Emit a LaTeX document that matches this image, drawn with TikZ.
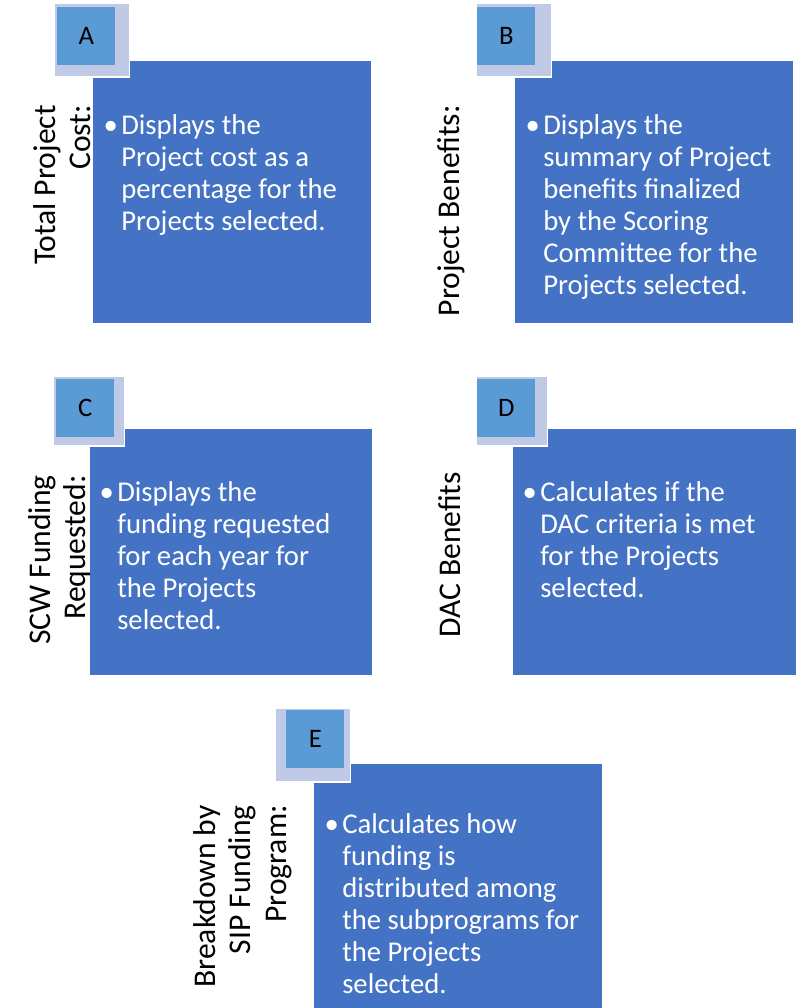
\documentclass[tikz,border=0pt]{standalone}
\usepackage{fontspec}
\setmainfont{Carlito}
\usetikzlibrary{positioning}
\definecolor{panelblue}{RGB}{68,114,196}
\definecolor{tabblue}{RGB}{91,155,213}
\definecolor{tabshade}{RGB}{192,202,230}
\newcommand{\bul}{\llap{•\hspace{2.5pt}}}

\begin{document}
\begin{tikzpicture}[x=0.75pt, y=-0.75pt,
		panel/.style={draw=white, line width=1pt, fill=panelblue, rectangle, inner sep=0pt, anchor=north west},
		tabback/.style={draw=white, line width=1pt, fill=tabshade, rectangle, inner sep=0pt, anchor=north west, minimum width=56pt, minimum height=55pt},
		tabfront/.style={fill=tabblue, rectangle, inner sep=0pt, anchor=north west, minimum size=43.5pt, font=\fontsize{20}{24}\selectfont},
		body/.style={text=white, align=left, inner sep=0pt, anchor=north west, font=\fontsize{21.5}{24}\selectfont},
		heading/.style={rotate=90, align=right, inner sep=0pt, anchor=north east, font=\fontsize{23.7}{26.6}\selectfont}]
	\useasboundingbox (0,0) rectangle (807,1008);
	% panels
	\node[panel, minimum width=209pt, minimum height=197pt] (pa) at (92,60) {};
	\node[panel, minimum width=209pt, minimum height=197pt] (pb) at (514,60) {};
	\node[panel, minimum width=212pt, minimum height=185pt] (pc) at (89,428) {};
	\node[panel, minimum width=213pt, minimum height=185pt] (pd) at (512,428) {};
	\node[panel, minimum width=217pt, minimum height=190pt] (pe) at (313,763) {};
	% letter tabs
	\node[tabback] (ta) at (54,3) {};
	\node[tabfront] (la) at (57,7) {A};
	\node[tabback] (tb) at (476,3) {};
	\node[tabfront] (lb) at (477,7) {B};
	\node[tabback, minimum width=53pt, minimum height=52pt] (tc) at (53,376) {};
	\node[tabfront] (lc) at (56,379) {C};
	\node[tabback, minimum width=53pt, minimum height=52pt] (td) at (476,376) {};
	\node[tabfront] (ld) at (477,379) {D};
	\node[tabback] (te) at (275,708) {};
	\node[tabfront] (le) at (286,710) {E};
	% side headings
	\node[heading] (ha) at (33,105) {Total Project\\Cost:};
	\node[heading] (hb) at (437,105) {Project Benefits:};
	\node[heading] (hc) at (28,475) {SCW Funding\\Requested:};
	\node[heading] (hd) at (438,472) {DAC Benefits};
	\node[heading] (he) at (193,805) {Breakdown by\\SIP Funding\\Program:};
	% bullet texts
	\node[body] (xa) at (121,114) {\bul Displays the\\Project cost as a\\percentage for the\\Projects selected.};
	\node[body] (xb) at (543,114) {\bul Displays the\\summary of Project\\benefits finalized\\by the Scoring\\Committee for the\\Projects selected.};
	\node[body] (xc) at (117,481) {\bul Displays the\\funding requested\\for each year for\\the Projects\\selected.};
	\node[body] (xd) at (540,481) {\bul Calculates if the\\DAC criteria is met\\for the Projects\\selected.};
	\node[body] (xe) at (342,813) {\bul Calculates how\\funding is\\distributed among\\the subprograms for\\the Projects\\selected.};
\end{tikzpicture}
\end{document}
